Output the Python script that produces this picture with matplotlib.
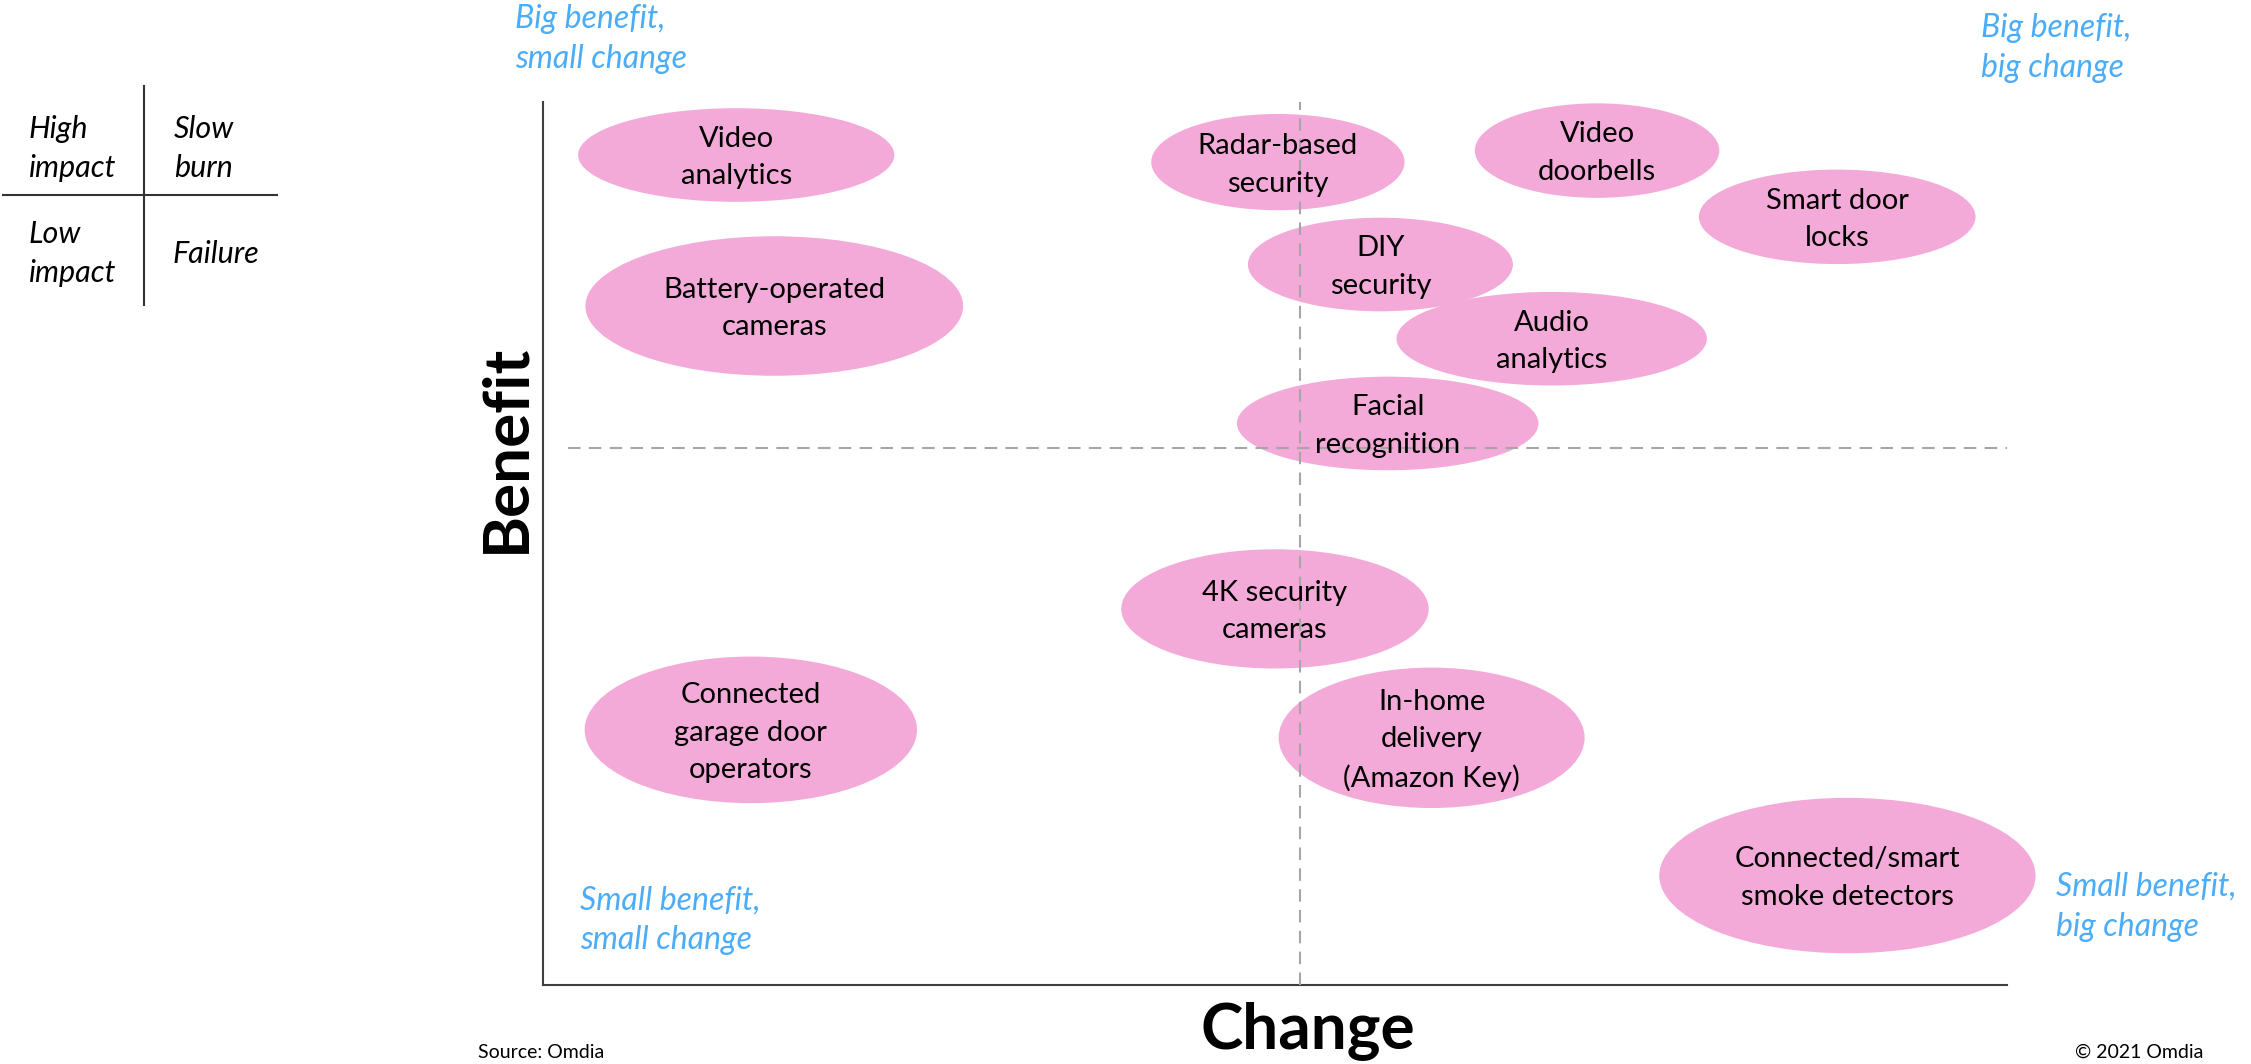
import matplotlib
matplotlib.use("Agg")
import matplotlib.pyplot as plt
from matplotlib.patches import Ellipse

plt.rcParams['font.family'] = ['Lato', 'DejaVu Sans']

# bubble labels and positions on a 0-100 change / benefit scale
labels = ["Video\nanalytics", "Radar-based\nsecurity", "Video\ndoorbells",
          "Smart door\nlocks", "DIY\nsecurity", "Battery-operated\ncameras",
          "Audio\nanalytics", "Facial\nrecognition", "4K security\ncameras",
          "Connected\ngarage door\noperators", "In-home\ndelivery\n(Amazon Key)",
          "Connected/smart\nsmoke detectors"]
change = [13.2, 50.2, 72.0, 88.4, 57.2, 15.8, 68.9, 57.7, 50.0, 14.2, 60.7, 89.1]
benefit = [94.0, 93.2, 94.5, 87.0, 81.6, 76.9, 73.2, 63.6, 42.6, 28.9, 28.0, 12.4]
bubble_w = [21.6, 17.3, 16.7, 18.9, 18.1, 25.8, 21.2, 20.6, 21.0, 22.7, 20.9, 25.7]
bubble_h = [10.6, 10.9, 10.7, 10.7, 10.6, 15.8, 10.6, 10.6, 13.5, 16.6, 15.9, 17.6]

change_split = 51.7
benefit_split = 60.8

pink = '#F3AAD8'
blue = '#4BACF7'

fig = plt.figure(figsize=(22.51, 10.64), dpi=100)
ax = fig.add_axes([0.2412, 0.0742, 0.6504, 0.8299])
ax.set_xlim(0, 100)
ax.set_ylim(0, 100)

for lab, x, y, w, h in zip(labels, change, benefit, bubble_w, bubble_h):
    ax.add_patch(Ellipse((x, y), w, h, facecolor=pink, edgecolor='none',
                         zorder=2, clip_on=False))
    ax.text(x, y - 0.3, lab, ha='center', va='center', fontsize=21, linespacing=1.55,
            color='black', zorder=4)

# quadrant split lines
ax.axvline(change_split, color='#A6A6A6', ls=(0, (6, 4)), lw=1.5, zorder=3)
ax.plot([1.7, 100], [benefit_split, benefit_split], color='#A6A6A6',
        ls=(0, (6, 4)), lw=1.5, zorder=3)

for s in ['top', 'right']:
    ax.spines[s].set_visible(False)
for s in ['left', 'bottom']:
    ax.spines[s].set_color('#404040')
    ax.spines[s].set_linewidth(1.5)
ax.set_xticks([])
ax.set_yticks([])

ax.set_xlabel("Change", fontsize=46, fontweight='bold', va='center')
ax.xaxis.set_label_coords(0.5225, -0.052)
ax.set_ylabel("Benefit", fontsize=46, fontweight='bold', va='center')
ax.yaxis.set_label_coords(-0.0255, 0.608)

# corner captions
cap = dict(color=blue, fontsize=23, style='italic', linespacing=1.4)
fig.text(0.2286, 0.9636, "Big benefit,\nsmall change", ha='left', va='center', **cap)
fig.text(0.8801, 0.9548, "Big benefit,\nbig change", ha='left', va='center', **cap)
fig.text(0.2577, 0.1350, "Small benefit,\nsmall change", ha='left', va='center', **cap)
fig.text(0.9133, 0.1478, "Small benefit,\nbig change", ha='left', va='center', **cap)

# key box at top left
key = dict(color='black', fontsize=22, style='italic', linespacing=1.45)
fig.text(0.0128, 0.8603, "High\nimpact", ha='left', va='center', **key)
fig.text(0.0772, 0.8603, "Slow\nburn", ha='left', va='center', **key)
fig.text(0.0128, 0.7618, "Low\nimpact", ha='left', va='center', **key)
fig.text(0.0765, 0.7611, "Failure", ha='left', va='center', **key)
fig.add_artist(plt.Line2D([0.0638, 0.0638], [0.919, 0.713], color='#333333', lw=1.5))
fig.add_artist(plt.Line2D([0.0013, 0.1231], [0.8165, 0.8165], color='#333333', lw=1.5))

fig.text(0.2124, 0.0108, "Source: Omdia", ha='left', va='center', fontsize=14)
fig.text(0.9790, 0.0108, "\u00a9 2021 Omdia", ha='right', va='center', fontsize=14)

fig.savefig("out.png", dpi=100)
